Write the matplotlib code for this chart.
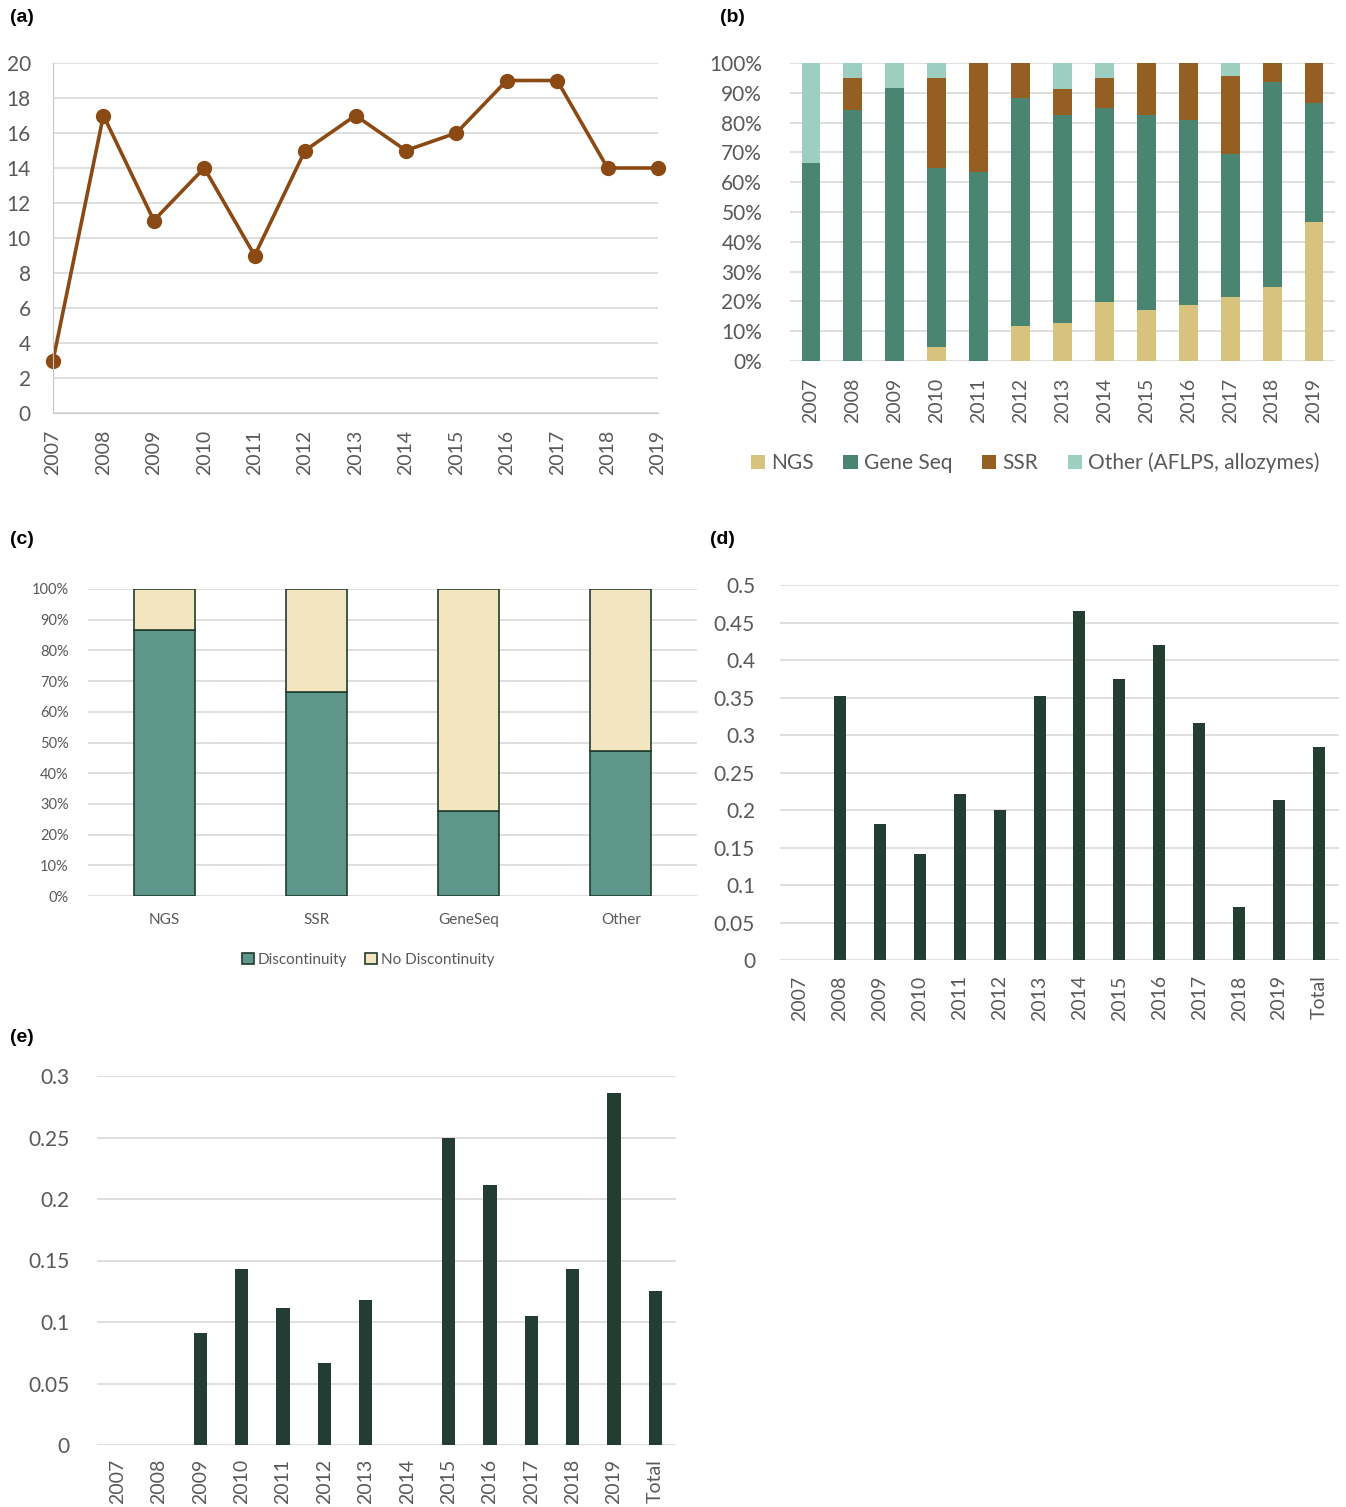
import numpy as np
from matplotlib import pyplot as plt

plt.rcParams['font.family'] = ['Lato', 'DejaVu Sans']

W, H = 1346, 1507

years = ['2007', '2008', '2009', '2010', '2011', '2012', '2013',
         '2014', '2015', '2016', '2017', '2018', '2019']
years_total = years + ['Total']

# (a) number of studies per year
counts = [3, 17, 11, 14, 9, 15, 17, 15, 16, 19, 19, 14, 14]

# (b) share of marker type per year (%)
ngs = [0, 0, 0, 4.7, 0, 11.6, 12.8, 19.7, 17.2, 18.8, 21.6, 24.8, 46.5]
gene_seq = [66.6, 84.1, 91.6, 60.2, 63.4, 76.6, 69.7, 65.2, 65.2, 62.2, 47.9, 68.9, 40.1]
ssr = [0, 10.7, 0, 30.1, 36.6, 11.8, 8.7, 10.1, 17.6, 19.0, 26.0, 6.3, 13.4]
other = [33.4, 5.2, 8.4, 5.0, 0, 0, 8.8, 5.0, 0, 0, 4.5, 0, 0]

# (c) discontinuity by marker
markers = ['NGS', 'SSR', 'GeneSeq', 'Other']
disc = [86.7, 66.6, 27.8, 47.1]
no_disc = [13.3, 33.4, 72.2, 52.9]

# (d) and (e) proportions
prop_d = [0, 0.352, 0.181, 0.142, 0.222, 0.2, 0.352, 0.466, 0.375, 0.42, 0.316, 0.071, 0.214, 0.284]
prop_e = [0, 0, 0.091, 0.143, 0.111, 0.067, 0.118, 0, 0.25, 0.211, 0.105, 0.143, 0.286, 0.125]

txt = '#595959'
grid = '#D9D9D9'


def box(l, t, r, b):
    return [l / W, 1 - b / H, (r - l) / W, (b - t) / H]


def style(ax, fs=15, xfs=14):
    for s in ax.spines.values():
        s.set_visible(False)
    ax.yaxis.grid(True, color=grid, lw=1.2)
    ax.set_axisbelow(True)
    ax.tick_params(length=0, colors=txt)
    ax.tick_params(axis='y', labelsize=fs)
    ax.tick_params(axis='x', labelsize=xfs)


fig = plt.figure(figsize=(W / 100, H / 100), dpi=100)

######################## (a)
ax1 = fig.add_axes(box(53, 63, 658, 413))
x = np.arange(len(years))
ax1.plot(x, counts, color='#8B4A14', lw=2.6, marker='o', ms=10, clip_on=False)
style(ax1)
ax1.spines['left'].set_visible(True)
ax1.spines['bottom'].set_visible(True)
ax1.spines['left'].set_color('#C8C8C8')
ax1.spines['bottom'].set_color('#C8C8C8')
ax1.set_xlim(0, 12)
ax1.set_ylim(0, 20)
ax1.set_yticks(range(0, 21, 2))
ax1.set_xticks(x)
ax1.set_xticklabels(years, rotation=90)
ax1.tick_params(axis='y', pad=16)
ax1.tick_params(axis='x', pad=12)

######################## (b)
ax2 = fig.add_axes(box(790, 63, 1335, 361))
bw = 0.45
b1 = np.array(ngs)
b2 = b1 + np.array(gene_seq)
b3 = b2 + np.array(ssr)
ax2.bar(x, ngs, bw, color='#D7C27E', label='NGS')
ax2.bar(x, gene_seq, bw, bottom=b1, color='#4A8571', label='Gene Seq')
ax2.bar(x, ssr, bw, bottom=b2, color='#955F23', label='SSR')
ax2.bar(x, other, bw, bottom=b3, color='#9DCFC0', label='Other (AFLPS, allozymes)')
style(ax2)
ax2.set_xlim(-0.5, 12.5)
ax2.set_ylim(0, 100)
ax2.set_yticks(range(0, 101, 10))
ax2.set_yticklabels([str(v) + '%' for v in range(0, 101, 10)])
ax2.set_xticks(x)
ax2.set_xticklabels(years, rotation=90)
ax2.tick_params(axis='y', pad=20)
ax2.tick_params(axis='x', pad=12)
ax2.legend(loc='upper center', bbox_to_anchor=(0.45, -0.245), ncol=4, frameon=False,
           fontsize=15, labelcolor=txt, handlelength=0.7, handleheight=0.7,
           handletextpad=0.3, columnspacing=1.4)

######################## (c)
ax3 = fig.add_axes(box(88, 589, 697, 896))
xc = np.arange(len(markers))
ax3.bar(xc, disc, 0.4, color='#5E968B', edgecolor='#1F3D2E', lw=1.2, label='Discontinuity')
ax3.bar(xc, no_disc, 0.4, bottom=disc, color='#F2E5C0', edgecolor='#1F3D2E', lw=1.2,
        label='No Discontinuity')
style(ax3, fs=10.5, xfs=11)
ax3.set_xlim(-0.5, 3.5)
ax3.set_ylim(0, 100)
ax3.set_yticks(range(0, 101, 10))
ax3.set_yticklabels([str(v) + '%' for v in range(0, 101, 10)])
ax3.set_xticks(xc)
ax3.set_xticklabels(markers)
ax3.tick_params(axis='y', pad=14)
ax3.tick_params(axis='x', pad=12)
ax3.legend(loc='upper center', bbox_to_anchor=(0.46, -0.14), ncol=2, frameon=False,
           fontsize=11, labelcolor=txt, handlelength=0.8, handleheight=0.8,
           handletextpad=0.2, columnspacing=1.2)

######################## (d)
ax4 = fig.add_axes(box(780, 585, 1339, 960))
xt = np.arange(len(years_total))
ax4.bar(xt, prop_d, 0.3, color='#243D33')
style(ax4)
ax4.set_xlim(-0.5, 13.5)
ax4.set_ylim(0, 0.5)
ax4.set_yticks(np.arange(0, 0.51, 0.05))
ax4.set_yticklabels(['0', '0.05', '0.1', '0.15', '0.2', '0.25', '0.3', '0.35', '0.4', '0.45', '0.5'])
ax4.set_xticks(xt)
ax4.set_xticklabels(years_total, rotation=90)
ax4.tick_params(axis='y', pad=18)
ax4.tick_params(axis='x', pad=11)

######################## (e)
ax5 = fig.add_axes(box(97, 1076, 676, 1445))
ax5.bar(xt, prop_e, 0.32, color='#243D33')
style(ax5)
ax5.set_xlim(-0.5, 13.5)
ax5.set_ylim(0, 0.3)
ax5.set_yticks(np.arange(0, 0.31, 0.05))
ax5.set_yticklabels(['0', '0.05', '0.1', '0.15', '0.2', '0.25', '0.3'])
ax5.set_xticks(xt)
ax5.set_xticklabels(years_total, rotation=90)
ax5.tick_params(axis='y', pad=20)
ax5.tick_params(axis='x', pad=10)

# panel letters
for lab, px, py in [('(a)', 10, 18), ('(b)', 720, 18), ('(c)', 10, 540),
                    ('(d)', 710, 540), ('(e)', 10, 1037)]:
    fig.text(px / W, 1 - py / H, lab, fontsize=14, fontweight='bold',
             family='Liberation Sans', va='center', ha='left')

plt.savefig('out.png', dpi=100)
